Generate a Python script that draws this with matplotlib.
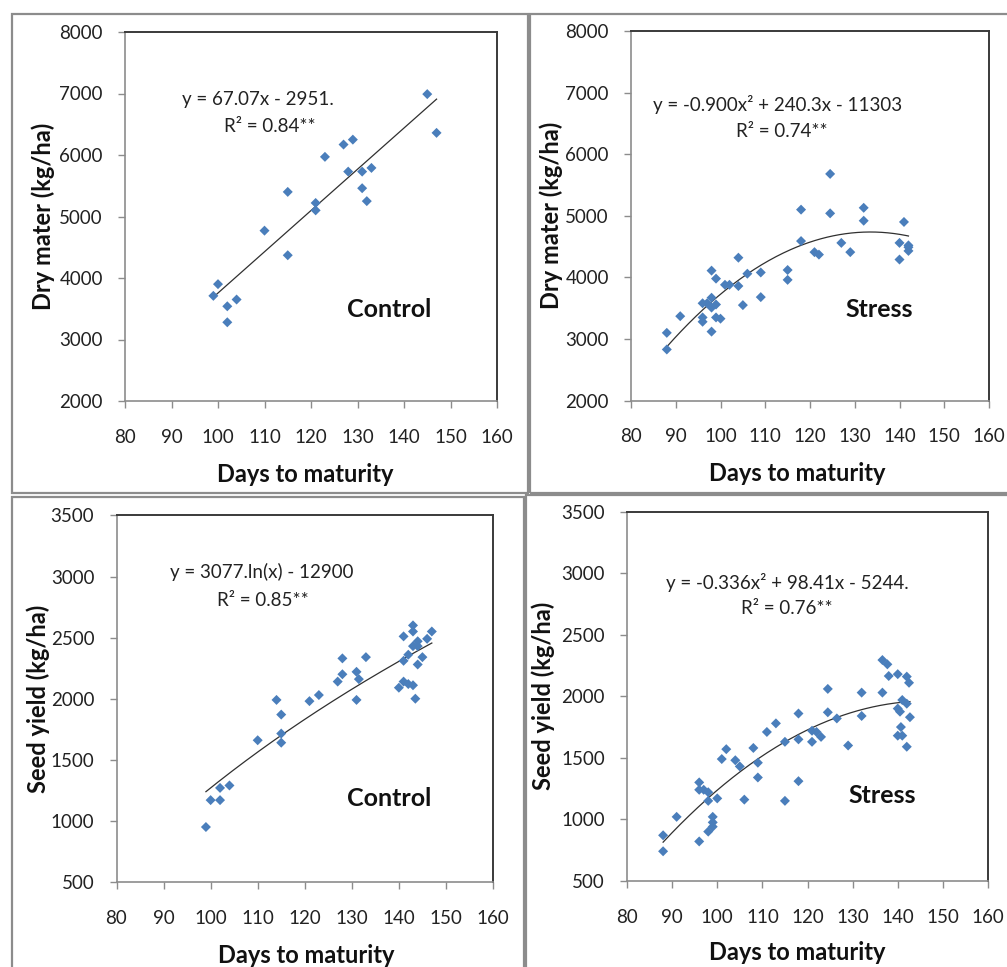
import matplotlib
matplotlib.use("Agg")
import matplotlib.pyplot as plt
from matplotlib.patches import Rectangle
import numpy as np

plt.rcParams['font.family'] = ['Lato', 'DejaVu Sans']

# ---- data ----
days_dm_ctrl = [99, 100, 102, 104, 102, 110, 115, 115, 121, 121, 123, 127, 129, 128,
                131, 133, 131, 132, 145, 147]
dm_ctrl = [3710, 3900, 3540, 3650, 3280, 4770, 5400, 4370, 5220, 5100, 5970, 6170, 6250, 5730,
           5730, 5790, 5460, 5250, 6990, 6360]

days_dm_str = [88, 88, 91, 96, 96, 96, 97, 98, 98, 98, 99, 98, 99, 99, 100, 101, 102, 104, 104,
               105, 106, 109, 109, 115, 115, 118, 118, 121, 122, 124.5, 124.5, 127, 129, 132, 132,
               140, 140, 141, 142, 142, 142]
dm_str = [2830, 3100, 3370, 3580, 3350, 3280, 3580, 3670, 3510, 3120, 3560, 4110, 3980, 3350,
          3330, 3880, 3880, 3860, 4320, 3550, 4060, 4080, 3680, 4120, 3960, 5100, 4590, 4410,
          4370, 5680, 5040, 4560, 4410, 5130, 4920, 4560, 4290, 4900, 4490, 4430, 4520]

days_sy_ctrl = [99, 100, 102, 102, 104, 110, 114, 115, 115, 115, 121, 123, 127, 128, 128, 131,
                131.5, 131, 133, 141, 141, 143, 143, 140, 141, 143, 143.5, 142, 143, 144, 144,
                145, 144, 146, 147, 142]
sy_ctrl = [950, 1170, 1170, 1270, 1290, 1660, 1990, 1870, 1715, 1640, 1980, 2030, 2140, 2200,
           2330, 2220, 2160, 1990, 2340, 2310, 2510, 2600, 2550, 2090, 2140, 2110, 2000, 2360,
           2430, 2470, 2430, 2340, 2280, 2490, 2550, 2120]

days_sy_str = [88, 88, 91, 96, 96, 96, 97, 98, 98, 98, 99, 99, 99, 100, 101, 102, 104, 105, 106,
               108, 109, 109, 111, 113, 115, 115, 118, 118, 118, 121, 121, 122, 123, 124.5, 124.5,
               126.5, 129, 132, 132, 136.6, 137.7, 136.6, 138, 140, 142, 142.5, 141, 142, 140.5,
               140.7, 140, 141, 142, 142.7, 140]
sy_str = [740, 870, 1020, 820, 1300, 1240, 1240, 1220, 1150, 900, 975, 1020, 940, 1170, 1490,
          1570, 1480, 1430, 1160, 1580, 1460, 1340, 1710, 1780, 1630, 1150, 1860, 1650, 1310,
          1720, 1630, 1710, 1670, 2060, 1870, 1820, 1600, 2030, 1840, 2295, 2260, 2030, 2165,
          2180, 2160, 2110, 1970, 1940, 1875, 1750, 1680, 1680, 1590, 1830, 1900]

# trendline coefficients as printed on the chart
lin_dm_ctrl = [67.07, -2951]
quad_dm_str = [-0.900, 240.3, -11303]
log_sy_ctrl = [3077, -12900]
quad_sy_str = [-0.336, 98.41, -5244]

eq_texts = ["y = 67.07x - 2951.", "y = -0.900x\u00b2 + 240.3x - 11303",
            "y = 3077.ln(x) - 12900", "y = -0.336x\u00b2 + 98.41x - 5244."]
r2_texts = ["R\u00b2 = 0.84**", "R\u00b2 = 0.74**", "R\u00b2 = 0.85**", "R\u00b2 = 0.76**"]
treatments = ["Control", "Stress", "Control", "Stress"]
ylabels = ["Dry mater (kg/ha)", "Dry mater (kg/ha)", "Seed yield (kg/ha)", "Seed yield (kg/ha)"]

W, H = 1007, 967
fig = plt.figure(figsize=(W / 100, H / 100), dpi=100)
fig.patch.set_facecolor('white')

# panel frames (pixel boxes)
for x0, y0, x1, y1 in [(12, 14, 528, 493), (530, 14, 1012, 493),
                       (12, 497, 524, 972), (526, 495, 1012, 972)]:
    fig.add_artist(Rectangle((x0 / W, 1 - y1 / H), (x1 - x0) / W, (y1 - y0) / H,
                             transform=fig.transFigure, fill=False, ec='#8c8c8c', lw=1.6))

# axes rectangles in pixels: left, top, right, bottom
boxes = [(125, 32, 497, 401), (631, 31, 989, 400.6),
         (116.5, 515.4, 493, 882), (627, 511.8, 988, 880.8)]
axes = []
for l, t, r, b in boxes:
    axes.append(fig.add_axes([l / W, 1 - b / H, (r - l) / W, (b - t) / H]))

xs = [days_dm_ctrl, days_dm_str, days_sy_ctrl, days_sy_str]
ys = [dm_ctrl, dm_str, sy_ctrl, sy_str]
ylims = [(2000, 8000), (2000, 8000), (500, 3500), (500, 3500)]
ysteps = [1000, 1000, 500, 500]

eq_pos = [(0.357, 0.816), (0.410, 0.802), (0.386, 0.845), (0.445, 0.808)]
r2_pos = [(0.39, 0.743), (0.421, 0.729), (0.39, 0.768), (0.442, 0.737)]
tr_pos = [(0.71, 0.247), (0.694, 0.247), (0.723, 0.229), (0.706, 0.23)]
ylab_x = [-0.187, -0.189, -0.176, -0.199]
xlab = [(0.484, -0.168), (0.463, -0.166), (0.503, -0.168), (0.471, -0.164)]

for i, ax in enumerate(axes):
    x = np.array(xs[i], dtype=float)
    ax.scatter(x, ys[i], marker='D', s=26, color='#4a7ebb', edgecolors='none', zorder=3)

    xt = np.linspace(x.min(), x.max(), 200)
    if i == 0:
        yt = np.polyval(lin_dm_ctrl, xt)
    elif i == 1:
        yt = np.polyval(quad_dm_str, xt)
    elif i == 2:
        yt = log_sy_ctrl[0] * np.log(xt) + log_sy_ctrl[1]
    else:
        yt = np.polyval(quad_sy_str, xt)
    ax.plot(xt, yt, color='#303030', lw=0.9, zorder=2)

    ax.set_xlim(80, 160)
    ax.set_ylim(*ylims[i])
    ax.set_xticks(np.arange(80, 161, 10))
    ax.set_yticks(np.arange(ylims[i][0], ylims[i][1] + 1, ysteps[i]))
    ax.tick_params(direction='out', length=5, width=1, color='#8c8c8c',
                   labelsize=13.5, labelcolor='#222222')
    ax.tick_params(axis='x', pad=15)
    ax.tick_params(axis='y', pad=11)
    ax.tick_params(top=False, right=False)
    for side in ['left', 'bottom']:
        ax.spines[side].set_color('#8c8c8c')
        ax.spines[side].set_linewidth(1.2)
    for side in ['top', 'right']:
        ax.spines[side].set_color('#3a3a3a')
        ax.spines[side].set_linewidth(1.4)

    ax.set_ylabel(ylabels[i], fontsize=17, fontweight='bold', color='#111111')
    ax.yaxis.set_label_coords(ylab_x[i], 0.5)
    ax.set_xlabel("Days to maturity", fontsize=17, fontweight='bold', color='#111111')
    ax.xaxis.set_label_coords(*xlab[i])

    ax.text(*eq_pos[i], eq_texts[i], transform=ax.transAxes, ha='center', va='center',
            fontsize=13.5, color='#222222')
    ax.text(*r2_pos[i], r2_texts[i], transform=ax.transAxes, ha='center', va='center',
            fontsize=13.5, color='#222222')
    ax.text(*tr_pos[i], treatments[i], transform=ax.transAxes, ha='center', va='center',
            fontsize=18, fontweight='bold', color='#111111')

fig.savefig('out.png', dpi=100, facecolor='white')
